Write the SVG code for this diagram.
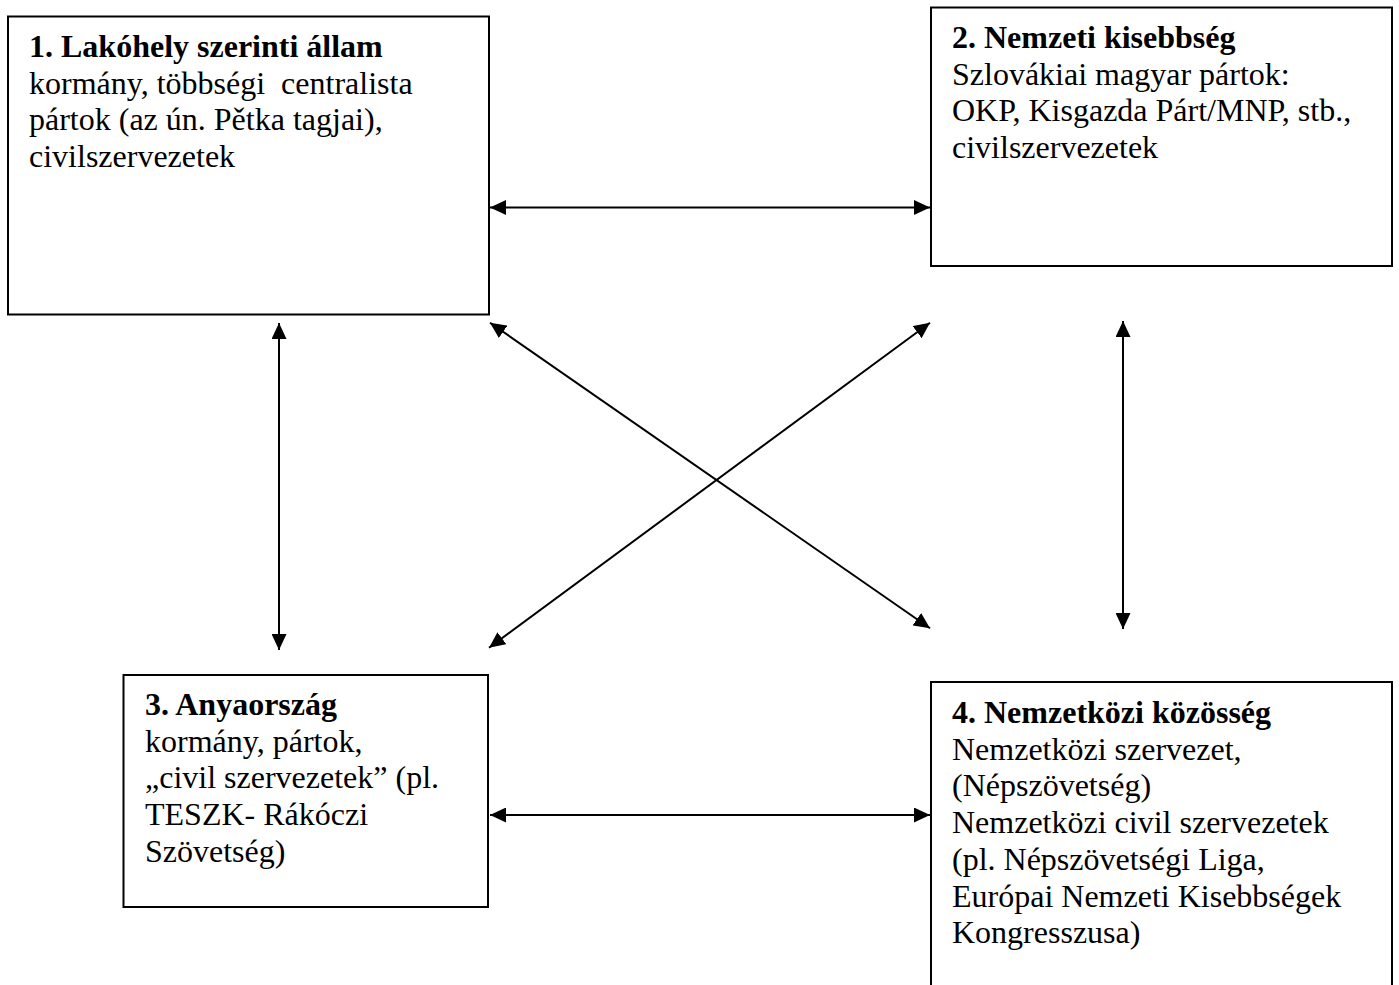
<svg xmlns="http://www.w3.org/2000/svg" width="1399" height="985" viewBox="0 0 1399 985">
<style>
.box{fill:#fff;stroke:#000;stroke-width:2}
.t{font-family:"Liberation Serif","Times New Roman",serif;font-size:32px;fill:#000}
.b{font-weight:bold}
.c{stroke:#000;stroke-width:2;fill:none;marker-start:url(#ah);marker-end:url(#ah)}
</style>
<defs>
<marker id="ah" markerUnits="userSpaceOnUse" markerWidth="17" markerHeight="15" refX="16" refY="7.5" orient="auto-start-reverse">
<path d="M0,0 L16,7.5 L0,15 z" fill="#000"/>
</marker>
</defs>
<rect width="1399" height="985" fill="#fff"/>
<g id="node1">
<rect class="box" x="8" y="16.5" width="481" height="298"/>
<text class="t" x="29" y="57"><tspan class="b">1. Lakóhely szerinti állam</tspan><tspan x="29" dy="36.7" xml:space="preserve">kormány, többségi  centralista</tspan><tspan x="29" dy="36.7">pártok (az ún. Pětka tagjai),</tspan><tspan x="29" dy="36.7">civilszervezetek</tspan></text>
</g>
<g id="node2">
<rect class="box" x="931" y="7.5" width="461" height="258.5"/>
<text class="t" x="952" y="48"><tspan class="b">2. Nemzeti kisebbség</tspan><tspan x="952" dy="36.7">Szlovákiai magyar pártok:</tspan><tspan x="952" dy="36.7">OKP, Kisgazda Párt/MNP, stb.,</tspan><tspan x="952" dy="36.7">civilszervezetek</tspan></text>
</g>
<g id="node3">
<rect class="box" x="123.5" y="675" width="364.5" height="232"/>
<text class="t" x="145" y="715"><tspan class="b">3. Anyaország</tspan><tspan x="145" dy="36.7">kormány, pártok,</tspan><tspan x="145" dy="36.7">„civil szervezetek” (pl.</tspan><tspan x="145" dy="36.7">TESZK- Rákóczi</tspan><tspan x="145" dy="36.7">Szövetség)</tspan></text>
</g>
<g id="node4">
<rect class="box" x="931" y="682" width="461" height="330"/>
<text class="t" x="952" y="723"><tspan class="b">4. Nemzetközi közösség</tspan><tspan x="952" dy="36.7">Nemzetközi szervezet,</tspan><tspan x="952" dy="36.7">(Népszövetség)</tspan><tspan x="952" dy="36.7">Nemzetközi civil szervezetek</tspan><tspan x="952" dy="36.7">(pl. Népszövetségi Liga,</tspan><tspan x="952" dy="36.7">Európai Nemzeti Kisebbségek</tspan><tspan x="952" dy="36.7">Kongresszusa)</tspan></text>
</g>
<g id="connectors">
<line class="c" x1="490" y1="207.5" x2="930" y2="207.5"/>
<line class="c" x1="490" y1="815" x2="930" y2="815"/>
<line class="c" x1="279" y1="323" x2="279" y2="650"/>
<line class="c" x1="1123" y1="321" x2="1123" y2="629"/>
<line class="c" x1="490" y1="322.7" x2="930" y2="628.3"/>
<line class="c" x1="489" y1="647.7" x2="930" y2="322.7"/>
</g>
</svg>
